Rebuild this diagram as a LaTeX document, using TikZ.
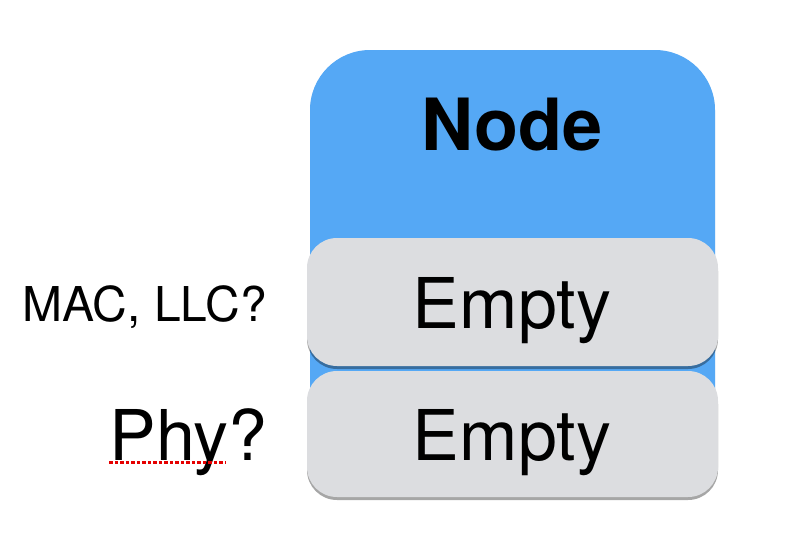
\documentclass[tikz,border=0pt]{standalone}
\usepackage{fontspec}
\setmainfont{TeX Gyre Heros}
\usepackage{tikz}
\usetikzlibrary{shadows}
\definecolor{nodeblue}{HTML}{55A8F5}
\definecolor{layergray}{HTML}{DCDDE0}
\tikzset{
  % box options
  stack/.style={rectangle,rounded corners=60pt,fill=nodeblue,minimum width=405pt,minimum height=430pt,
    drop shadow={shadow xshift=0pt,shadow yshift=-1pt,opacity=.12,fill=black}},
  layer/.style={rectangle,rounded corners=30pt,fill=layergray,minimum width=411pt,
    drop shadow={shadow xshift=0pt,shadow yshift=-3pt,opacity=.35,fill=black}},
  % text options
  title/.style={anchor=base,font=\fontsize{72}{80}\selectfont\bfseries},
  layertext/.style={anchor=base,font=\fontsize{70}{80}\selectfont},
  side/.style={anchor=base east,inner sep=0pt},
  % line options
  spell/.style={red!90!black,line width=3pt,dash pattern=on 3.5pt off 2pt},
}
\begin{document}
\begin{tikzpicture}[x=1pt,y=-1pt]
  \useasboundingbox (0,0) rectangle (810,546);
  \node[stack] (node box) at (512.5,265) {};
  \node[title] (node title) at (512,150) {Node};
  \node[layer,minimum height=128pt] (mac layer) at (512.5,302) {};
  \node[layer,minimum height=126pt] (phy layer) at (512.5,434) {};
  \node[layertext] (mac empty) at (512,328) {Empty};
  \node[layertext] (phy empty) at (512,460) {Empty};
  \node[side,font=\fontsize{48}{56}\selectfont] (mac label) at (267,321) {MAC, LLC?};
  \node[side,font=\fontsize{70}{80}\selectfont] (phy label) at (268,460) {Phy?};
  \draw[spell] ([yshift=-2.5pt]phy label.base west) -- ++(117,0);
\end{tikzpicture}
\end{document}
